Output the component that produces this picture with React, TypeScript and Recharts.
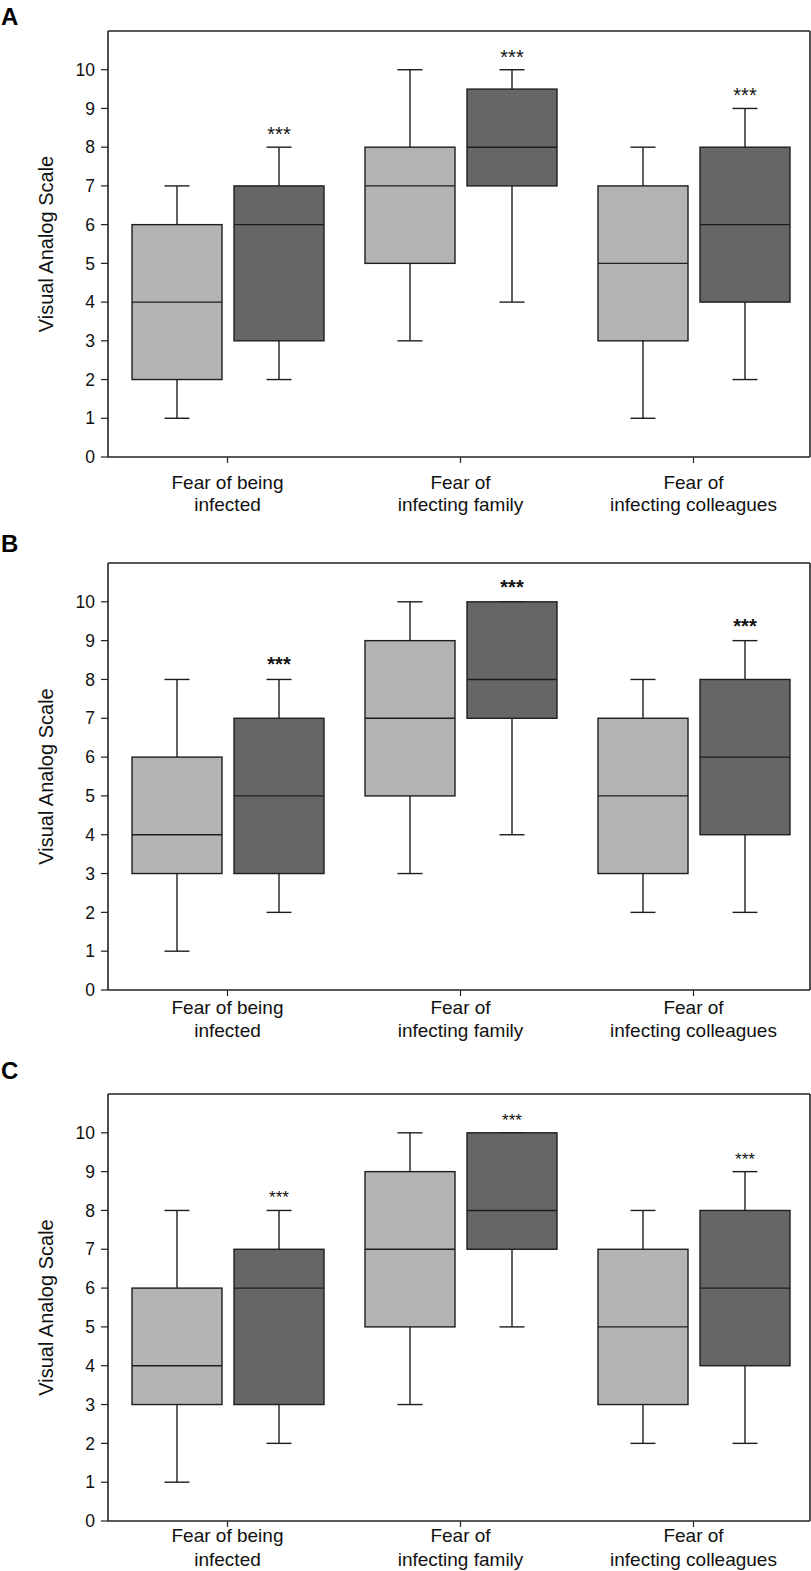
import React from 'react';
import { ComposedChart, Bar, XAxis, YAxis } from 'recharts';

// ---- data ----
const categories = ['Fear of being infected', 'Fear of infecting family', 'Fear of infecting colleagues'];
const tickLines: Record<string, string[]> = {
  'Fear of being infected': ['Fear of being', 'infected'],
  'Fear of infecting family': ['Fear of', 'infecting family'],
  'Fear of infecting colleagues': ['Fear of', 'infecting colleagues'],
};
const yTicks = [0, 1, 2, 3, 4, 5, 6, 7, 8, 9, 10];
const yLabel = 'Visual Analog Scale';

// [min, q1, median, q3, max]
const panelALight = [[1, 2, 4, 6, 7], [3, 5, 7, 8, 10], [1, 3, 5, 7, 8]];
const panelADark = [[2, 3, 6, 7, 8], [4, 7, 8, 9.5, 10], [2, 4, 6, 8, 9]];
const panelAStars = ['***', '***', '***'];

const panelBLight = [[1, 3, 4, 6, 8], [3, 5, 7, 9, 10], [2, 3, 5, 7, 8]];
const panelBDark = [[2, 3, 5, 7, 8], [4, 7, 8, 10, 10], [2, 4, 6, 8, 9]];
const panelBStars = ['***', '***', '***'];

const panelCLight = [[1, 3, 4, 6, 8], [3, 5, 7, 9, 10], [2, 3, 5, 7, 8]];
const panelCDark = [[2, 3, 6, 7, 8], [5, 7, 8, 10, 10], [2, 4, 6, 8, 9]];
const panelCStars = ['***', '***', '***'];

const FONT = '"Liberation Sans", Arial, Helvetica, sans-serif';
const LIGHT = '#b3b3b3';
const DARK = '#666666';
const INK = '#1e1e1e';
const FRAME = '#222222';

type StarStyle = { size: number; weight: number | string; offset: number };

function BoxShape(props: any) {
  const { x, y, width, height, stats, fill, star, starStyle } = props;
  if (!stats) return null;
  const [mn, q1, md, q3, mx] = stats as number[];
  const top = Math.min(y, y + height);
  const bot = Math.max(y, y + height);
  const h = bot - top;
  const px = (v: number) => (mx === mn ? top : top + ((mx - v) / (mx - mn)) * h);
  const cx = x + width / 2;
  const capHalf = 12.5;
  const yq1 = px(q1);
  const yq3 = px(q3);
  const ymd = px(md);
  return (
    <g>
      <line x1={cx} x2={cx} y1={px(mx)} y2={yq3} stroke={INK} strokeWidth={1.4} />
      <line x1={cx - capHalf} x2={cx + capHalf} y1={px(mx)} y2={px(mx)} stroke={INK} strokeWidth={1.4} />
      <line x1={cx} x2={cx} y1={yq1} y2={px(mn)} stroke={INK} strokeWidth={1.4} />
      <line x1={cx - capHalf} x2={cx + capHalf} y1={px(mn)} y2={px(mn)} stroke={INK} strokeWidth={1.4} />
      <rect x={x} y={yq3} width={width} height={yq1 - yq3} fill={fill} stroke={INK} strokeWidth={1.4} />
      <line x1={x} x2={x + width} y1={ymd} y2={ymd} stroke={INK} strokeWidth={1.4} />
      {star && starStyle ? (
        <text
          x={cx}
          y={px(mx) - starStyle.offset}
          textAnchor="middle"
          fontFamily={FONT}
          fontSize={starStyle.size}
          fontWeight={starStyle.weight}
          fill="#111"
        >
          {star}
        </text>
      ) : null}
    </g>
  );
}

function makeCatTick(firstDy: number, lineDy: number) {
  return function CatTick(props: any) {
    const { x, y, payload } = props;
    const lines = tickLines[payload.value] || [payload.value];
    return (
      <text x={x} y={y} textAnchor="middle" fontFamily={FONT} fontSize={19} fill="#111">
        {lines.map((l, i) => (
          <tspan key={i} x={x} dy={i === 0 ? firstDy : lineDy}>
            {l}
          </tspan>
        ))}
      </text>
    );
  };
}

function YLabel(p: any) {
  const vb = p.viewBox || { x: 0, y: 31, width: 108, height: 425 };
  const cx = (vb.x || 0) + 46;
  const cy = vb.y + vb.height / 2;
  return (
    <text
      x={cx}
      y={cy}
      transform={`rotate(-90 ${cx} ${cy})`}
      textAnchor="middle"
      dominantBaseline="central"
      fontFamily={FONT}
      fontSize={20}
      fill="#111"
    >
      {yLabel}
    </text>
  );
}

function Panel(props: {
  letter: string;
  top: number;
  letterTop: number;
  light: number[][];
  dark: number[][];
  stars: string[];
  starStyle: StarStyle;
  bottomH: number;
  labelDy: number;
  lineDy: number;
}) {
  const { letter, top, letterTop, light, dark, stars, starStyle, bottomH, labelDy, lineDy } = props;
  const rows = categories.map((c, i) => ({
    cat: c,
    l: light[i],
    d: dark[i],
    lr: [light[i][0], light[i][4]],
    dr: [dark[i][0], dark[i][4]],
    star: stars[i],
  }));
  const Tick = makeCatTick(labelDy, lineDy);
  const renderLight = (p: any) => <BoxShape {...p} stats={p.payload.l} fill={LIGHT} />;
  const renderDark = (p: any) => (
    <BoxShape {...p} stats={p.payload.d} fill={DARK} star={p.payload.star} starStyle={starStyle} />
  );
  return (
    <div style={{ position: 'absolute', left: 0, top, width: 811, height: 531 }}>
      <div
        style={{
          position: 'absolute',
          left: 1,
          top: letterTop,
          fontFamily: FONT,
          fontWeight: 'bold',
          fontSize: 24,
          lineHeight: '24px',
          color: '#000',
        }}
      >
        {letter}
      </div>
      <ComposedChart
        width={811}
        height={531}
        data={rows}
        margin={{ top: 30, right: 0, bottom: 0, left: 0 }}
        barGap={12}
      >
        <XAxis
          dataKey="cat"
          interval={0}
          tick={<Tick />}
          tickSize={6}
          tickMargin={0}
          height={bottomH}
          padding={{ left: 3, right: 0 }}
          axisLine={{ stroke: FRAME, strokeWidth: 1.6 }}
          tickLine={{ stroke: FRAME, strokeWidth: 1.2 }}
        />
        <XAxis
          xAxisId="top"
          orientation="top"
          dataKey="cat"
          tick={false}
          tickLine={false}
          height={1}
          axisLine={{ stroke: FRAME, strokeWidth: 1.6 }}
        />
        <YAxis
          domain={[0, 11]}
          ticks={yTicks}
          type="number"
          interval={0}
          width={108}
          tickSize={7}
          tickMargin={6}
          tick={{ fontFamily: FONT, fontSize: 17.5, fill: '#111' }}
          axisLine={{ stroke: FRAME, strokeWidth: 1.6 }}
          tickLine={{ stroke: FRAME, strokeWidth: 1.2 }}
          label={<YLabel />}
        />
        <YAxis
          yAxisId="r"
          orientation="right"
          domain={[0, 11]}
          type="number"
          tick={false}
          tickLine={false}
          width={1}
          axisLine={{ stroke: FRAME, strokeWidth: 1.6 }}
        />
        <Bar dataKey="lr" barSize={90} isAnimationActive={false} shape={renderLight} />
        <Bar dataKey="dr" barSize={90} isAnimationActive={false} shape={renderDark} />
      </ComposedChart>
    </div>
  );
}

export default function App() {
  return (
    <div
      style={{
        position: 'absolute',
        left: 0,
        top: 0,
        width: 811,
        height: 1571,
        overflow: 'hidden',
        background: '#fff',
      }}
    >
      <Panel
        letter="A"
        top={0}
        letterTop={5}
        light={panelALight}
        dark={panelADark}
        stars={panelAStars}
        starStyle={{ size: 20, weight: 'normal', offset: 6 }}
        bottomH={74}
        labelDy={26}
        lineDy={22}
      />
      <Panel
        letter="B"
        top={532}
        letterTop={0}
        light={panelBLight}
        dark={panelBDark}
        stars={panelBStars}
        starStyle={{ size: 20, weight: 'bold', offset: 8 }}
        bottomH={73}
        labelDy={18}
        lineDy={23}
      />
      <Panel
        letter="C"
        top={1063}
        letterTop={-4}
        light={panelCLight}
        dark={panelCDark}
        stars={panelCStars}
        starStyle={{ size: 17, weight: 'normal', offset: 7 }}
        bottomH={73}
        labelDy={15}
        lineDy={24}
      />
    </div>
  );
}
